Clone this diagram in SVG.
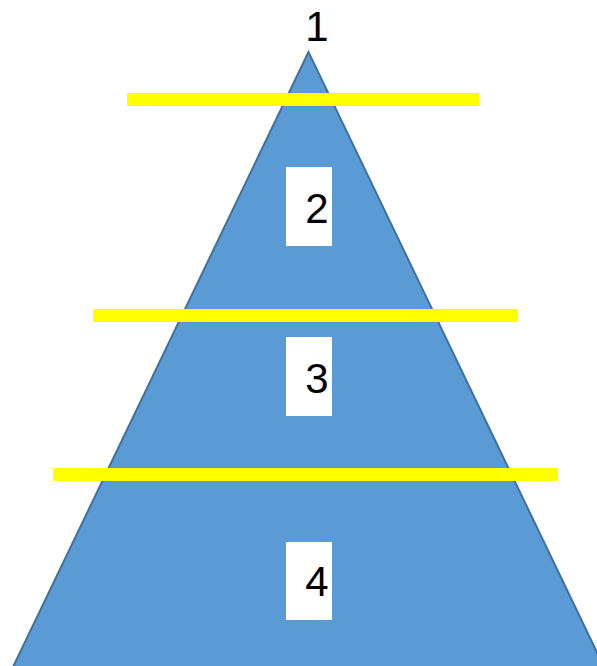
<svg xmlns="http://www.w3.org/2000/svg" width="597" height="666" viewBox="0 0 597 666">
<style>
.tri{fill:#5B9BD5;stroke:#41719C;stroke-width:2}
.bar{fill:#FFFF00}
.box{fill:#FFFFFF}
.lbl{font-family:"Liberation Sans",Arial,sans-serif;font-size:42px;fill:#000;text-anchor:middle}
</style>
<rect width="597" height="666" fill="#FFFFFF"/>
<g id="pyramid">
<polygon class="tri" points="308.5,52 13,667 604,667"/>
</g>
<g id="connectors">
<rect class="bar" x="127" y="93" width="352" height="13"/>
<rect class="bar" x="93" y="309" width="425" height="13"/>
<rect class="bar" x="53" y="468" width="505" height="13"/>
</g>
<g id="level1">
<text class="lbl" x="317" y="41">1</text>
</g>
<g id="level2">
<rect class="box" x="286" y="167" width="46" height="79"/>
<text class="lbl" x="317" y="223">2</text>
</g>
<g id="level3">
<rect class="box" x="286" y="337" width="46" height="79"/>
<text class="lbl" x="317" y="393">3</text>
</g>
<g id="level4">
<rect class="box" x="286" y="542" width="46" height="78"/>
<text class="lbl" x="317" y="596">4</text>
</g>
</svg>
